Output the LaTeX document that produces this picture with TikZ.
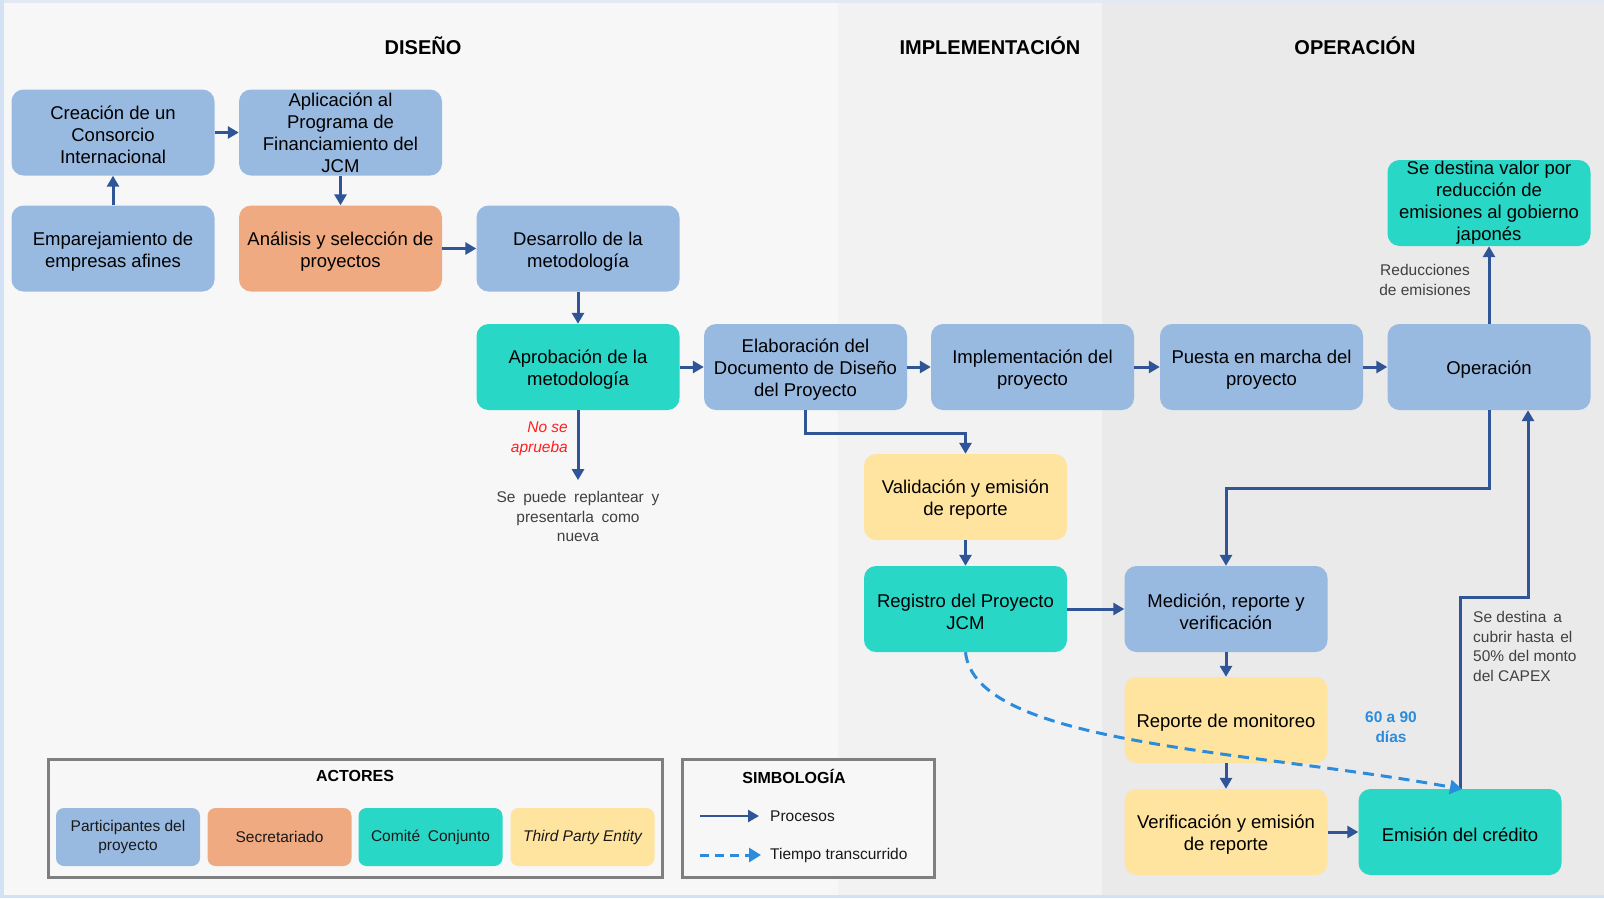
\documentclass[tikz,border=0pt]{standalone}
\usepackage{fontspec}
\setmainfont{Liberation Sans}
\usetikzlibrary{arrows.meta}
\definecolor{pblue}{HTML}{98B9E0}
\definecolor{porange}{HTML}{F0AA82}
\definecolor{pteal}{HTML}{28D7C6}
\definecolor{pyellow}{HTML}{FFE49F}
\definecolor{arrowblue}{HTML}{2F5597}
\definecolor{dashblue}{HTML}{2B8CDD}
\definecolor{bgA}{HTML}{F7F7F7}
\definecolor{bgB}{HTML}{F2F2F2}
\definecolor{bgC}{HTML}{EAEAEA}
\definecolor{frameblue}{HTML}{D2E1F3}
\definecolor{frametop}{HTML}{E2E9F2}
\definecolor{legendgray}{HTML}{7F7F7F}
\definecolor{labelgray}{HTML}{404040}
\definecolor{nored}{HTML}{FF1F1F}
\newcommand{\firststrut}{\rule{0pt}{19pt}}
\begin{document}
\begin{tikzpicture}[x=1pt,y=-1pt,
  box/.style={rounded corners=12pt, minimum width=203pt, minimum height=86pt, align=center,
    inner xsep=2pt, inner ysep=0pt, font=\fontsize{18.5}{22}\selectfont, text=black},
  bluebox/.style={box, fill=pblue},
  orangebox/.style={box, fill=porange},
  tealbox/.style={box, fill=pteal},
  yellowbox/.style={box, fill=pyellow},
  proc/.style={draw=arrowblue, line width=3pt, -{Triangle[length=11pt,width=12pt,fill=arrowblue]}},
  elapsed/.style={draw=dashblue, line width=3pt, dash pattern=on 11pt off 7pt,
    -{Triangle[length=12pt,width=14pt,fill=dashblue,sep=-2pt]}},
  legproc/.style={proc, line width=2.5pt},
  legelapsed/.style={elapsed, dash pattern=on 9pt off 6pt},
  lbl/.style={font=\fontsize{15.5}{19.5}\selectfont, text=labelgray, inner sep=0pt},
  paneltitle/.style={font=\bfseries\fontsize{20}{22}\selectfont, text=black},
  legframe/.style={draw=legendgray, line width=3pt, fill=bgA},
  legtitle/.style={font=\bfseries\fontsize{16}{19}\selectfont, text=black},
  actor/.style={rounded corners=8pt, minimum width=144pt, minimum height=58pt, align=center,
    inner sep=1pt, font=\fontsize{15.5}{19}\selectfont, text=black!90},
  legtext/.style={font=\fontsize{15.5}{19}\selectfont, text=black!90, inner sep=0pt}
]
\useasboundingbox (0,0) rectangle (1604,898);
% background panels
\fill[frameblue] (0,0) rectangle (1604,898);
\fill[frametop] (4,0) rectangle (1604,3);
\fill[bgA] (4,3) rectangle (838,895);
\fill[bgB] (838,3) rectangle (1102,895);
\fill[bgC] (1102,3) rectangle (1604,895);

\node[paneltitle] (tdis) at (423,46) {DISEÑO};
\node[paneltitle] (timp) at (990,46) {IMPLEMENTACIÓN};
\node[paneltitle] (tope) at (1355,46) {OPERACIÓN};

% process boxes
\node[bluebox] (crea) at (113,132.5) {\firststrut Creación de un\\Consorcio\\Internacional};
\node[bluebox] (apli) at (340.5,132.5) {Aplicación al\\Programa de\\Financiamiento del\\JCM};
\node[bluebox] (empa) at (113,248.5) {\firststrut Emparejamiento de\\empresas afines};
\node[orangebox] (anal) at (340.5,248.5) {\firststrut Análisis y selección de\\proyectos};
\node[bluebox] (desa) at (578,248.5) {\firststrut Desarrollo de la\\metodología};
\node[tealbox] (apro) at (578,367) {\firststrut Aprobación de la\\metodología};
\node[bluebox] (elab) at (805.5,367) {\firststrut Elaboración del\\Documento de Diseño\\del Proyecto};
\node[bluebox] (impl) at (1032.5,367) {\firststrut Implementación del\\proyecto};
\node[bluebox] (pues) at (1261.5,367) {\firststrut Puesta en marcha del\\proyecto};
\node[bluebox] (oper) at (1489,367) {\firststrut Operación};
\node[tealbox] (gobi) at (1489,203) {Se destina valor por\\reducción de\\emisiones al gobierno\\japonés};
\node[yellowbox] (vali) at (965.5,497) {\firststrut Validación y emisión\\de reporte};
\node[tealbox] (regi) at (965.5,609) {\firststrut Registro del Proyecto\\JCM};
\node[bluebox] (medi) at (1226,609) {\firststrut Medición, reporte y\\verificación};
\node[yellowbox] (repo) at (1226,720) {\firststrut Reporte de monitoreo};
\node[yellowbox] (veri) at (1226,832) {\firststrut Verificación y emisión\\de reporte};
\node[tealbox] (emis) at (1460,832) {\firststrut Emisión del crédito};

% labels
\node[lbl, align=center] (repl) at (578,516.5) {Se\hspace{0.5em}puede\hspace{0.5em}replantear\hspace{0.5em}y\\presentarla\hspace{0.5em}como\\nueva};
\node[font=\itshape\fontsize{15.5}{19.5}\selectfont, text=nored, align=right, anchor=east, inner sep=0pt] (noap) at (568,439) {No se\\aprueba};
\node[lbl, align=center] (redu) at (1425,280) {Reducciones\\de emisiones};
\node[lbl, align=left, anchor=west] (capex) at (1473,646.5) {Se destina\hspace{0.45em}a\\cubrir hasta\hspace{0.4em}el\\50\% del monto\\del CAPEX};
\node[font=\bfseries\fontsize{15.5}{19.5}\selectfont, text=dashblue, align=center, inner sep=0pt] (dias) at (1391,727) {60 a 90\\días};

% connectors
\draw[proc] (empa) -- (crea);
\draw[proc] (crea) -- (apli);
\draw[proc] (apli) -- (anal);
\draw[proc] (anal) -- (desa);
\draw[proc] (desa) -- (apro);
\draw[proc] (apro.south) -- ([yshift=11pt]repl.north);
\draw[proc] (apro) -- (elab);
\draw[proc] (elab) -- (impl);
\draw[proc] (impl) -- (pues);
\draw[proc] (pues) -- (oper);
\draw[proc] (oper) -- (gobi);
\draw[proc] (elab.south) -- ++(0,23) -| (vali.north);
\draw[proc] (vali) -- (regi);
\draw[proc] (regi) -- (medi);
\draw[proc] (oper.south) -- ++(0,78) -| (medi.north);
\draw[proc] (medi) -- (repo);
\draw[proc] (repo) -- (veri);
\draw[proc] (veri) -- (emis);
\draw[proc] (emis.north) -- ++(0,-191) -| ([xshift=39pt]oper.south);
\draw[elapsed] (regi.south) .. controls (975,745) and (1250,750) .. (emis.north);

% legend: actors
\node[legframe, minimum width=614pt, minimum height=118pt] (actf) at (355,818) {};
\node[legtitle] (actt) at (355,776) {ACTORES};
\node[actor, fill=pblue] (a1) at (128,837) {Participantes del\\proyecto};
\node[actor, fill=porange] (a2) at (279.5,837) {Secretariado};
\node[actor, fill=pteal] (a3) at (430.5,837) {Comité\hspace{0.5em}Conjunto};
\node[actor, fill=pyellow] (a4) at (582.5,837) {\itshape Third Party Entity};

% legend: symbols
\node[legframe, minimum width=252pt, minimum height=118pt] (simf) at (808,818) {};
\node[legtitle] (simt) at (794,776) {SIMBOLOGÍA};
\coordinate (s1) at (700,816);
\coordinate (s2) at (700,855);
\node[legtext, anchor=west] (proct) at (770,816) {Procesos};
\node[legtext, anchor=west] (tiet) at (770,855) {Tiempo transcurrido};
\draw[legproc] (s1) -- ([xshift=-11pt]proct.west);
\draw[legelapsed] (s2) -- ([xshift=-11pt]tiet.west);
\end{tikzpicture}
\end{document}
